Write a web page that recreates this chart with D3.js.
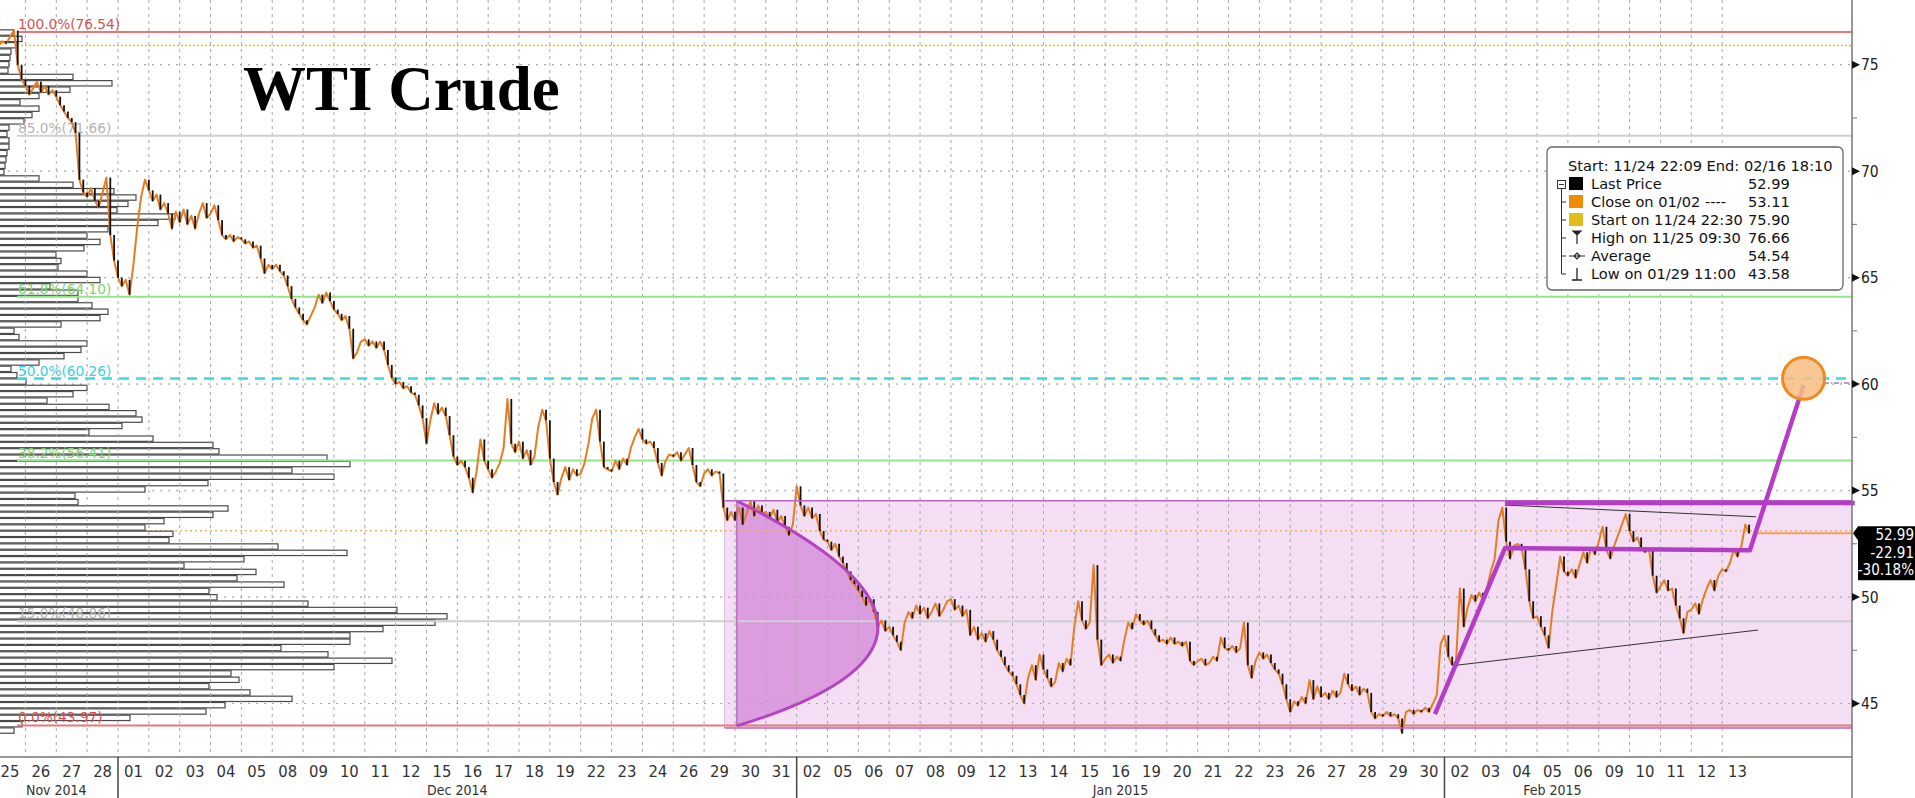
<!DOCTYPE html>
<html><head><meta charset="utf-8">
<script src="https://cdn.jsdelivr.net/npm/d3@7"></script>
<style>
html,body{margin:0;padding:0;background:#fff;overflow:hidden}
svg{display:block}
</style></head><body>
<svg id="chart" width="1915" height="798" font-family="DejaVu Sans, sans-serif"></svg>
<script>
// ---------------- DATA ----------------
const tradingDays = ["2014-11-25","2014-11-26","2014-11-27","2014-11-28",
"2014-12-01","2014-12-02","2014-12-03","2014-12-04","2014-12-05","2014-12-08","2014-12-09","2014-12-10","2014-12-11","2014-12-12",
"2014-12-15","2014-12-16","2014-12-17","2014-12-18","2014-12-19","2014-12-22","2014-12-23","2014-12-24","2014-12-26","2014-12-29","2014-12-30","2014-12-31",
"2015-01-02","2015-01-05","2015-01-06","2015-01-07","2015-01-08","2015-01-09","2015-01-12","2015-01-13","2015-01-14","2015-01-15","2015-01-16",
"2015-01-19","2015-01-20","2015-01-21","2015-01-22","2015-01-23","2015-01-26","2015-01-27","2015-01-28","2015-01-29","2015-01-30",
"2015-02-02","2015-02-03","2015-02-04","2015-02-05","2015-02-06","2015-02-09","2015-02-10","2015-02-11","2015-02-12","2015-02-13"];

// price samples, 8 per trading session (every 3 hours)
const dailyPrices = [
[null,75.9,76.1,76.0,76.3,76.6,75.0,74.3],
[74.0,73.6,73.9,74.2,73.7,74.0,73.6,73.8],
[73.5,73.1,72.8,72.5,72.3,71.8,69.6,69.0],
[68.8,69.2,68.6,68.3,69.0,69.7,67.0,65.8],
[65.0,64.6,64.9,64.2,65.6,67.4,68.8,69.6],
[69.1,68.6,68.9,68.2,68.5,68.0,67.3,68.1],
[67.6,68.2,67.5,67.9,67.3,68.0,68.5,67.8],
[68.0,68.4,67.7,67.0,66.8,67.0,66.7,66.9],
[66.8,66.6,66.7,66.4,66.5,65.9,65.2,65.6],
[65.4,65.6,65.3,65.1,64.6,64.0,63.6,63.3],
[63.0,62.8,63.2,63.6,64.2,63.8,64.3,63.9],
[63.5,63.3,63.0,63.2,62.6,61.2,61.5,62.0],
[62.1,61.8,62.0,61.7,62.0,61.6,60.9,60.3],
[60.0,60.1,59.8,59.9,59.6,59.5,59.0,58.4],
[57.2,58.3,59.1,58.6,58.9,58.5,57.6,56.6],
[56.2,56.4,56.1,55.6,54.9,55.9,57.4,56.4],
[56.0,55.6,55.9,56.3,57.0,59.3,57.2,56.8],
[57.3,56.5,56.9,56.2,56.6,58.0,58.8,58.3],
[56.5,55.4,54.8,55.6,56.1,55.5,56.0,55.7],
[55.8,56.3,57.2,58.4,58.8,57.3,56.1,56.0],
[55.9,56.4,56.0,56.5,56.2,57.0,57.5,57.9],
[57.4,57.2,57.3,57.0,56.3,55.7,56.4,56.7],
[56.6,56.8,56.4,56.7,57.0,56.2,55.4,55.2],
[55.8,56.0,55.7,55.9,55.8,54.2,53.6,54.0],
[53.6,54.2,53.4,53.9,54.5,53.8,54.3,53.9],
[54.0,53.7,54.1,53.5,53.8,53.3,52.9,53.4],
[55.2,54.3,53.8,54.2,53.7,53.9,53.1,52.7],
[52.6,52.2,52.5,51.9,51.6,51.2,50.8,50.6],
[50.3,50.0,49.6,49.9,49.3,48.6,48.9,48.4],
[48.6,48.2,47.9,47.5,48.8,49.3,49.0,49.6],
[49.2,49.5,49.0,49.3,49.7,49.1,49.4,49.8],
[49.9,49.4,49.6,49.1,49.4,48.2,48.6,48.0],
[48.3,47.9,48.4,48.0,47.5,47.2,46.8,46.5],
[46.3,45.9,45.4,45.0,46.2,46.8,46.1,47.3],
[46.6,46.2,45.8,46.0,46.9,46.5,47.1,46.8],
[48.6,49.8,48.9,48.5,48.8,51.5,48.0,46.8],
[47.1,47.3,46.9,47.2,47.0,48.0,48.8,48.5],
[49.2,48.9,48.7,48.9,48.5,48.2,47.9,48.0],
[47.8,48.1,47.8,47.9,47.7,47.9,47.0,46.8],
[47.0,47.1,46.8,46.9,47.2,47.0,48.1,47.6],
[47.5,47.7,47.4,47.6,48.8,46.8,46.2,47.0],
[47.4,47.1,47.3,46.9,46.6,46.4,45.9,45.2],
[44.6,45.1,44.9,45.3,45.0,46.1,45.2,45.8],
[45.3,45.5,45.2,45.6,45.3,45.5,46.4,45.9],
[45.6,45.8,45.4,45.7,45.5,44.6,44.3,44.5],
[44.4,44.6,44.4,44.5,44.3,43.6,44.6,44.7],
[44.5,44.7,44.6,44.8,44.6,45.0,45.4,47.8],
[48.2,47.2,46.8,47.0,50.4,48.6,49.5,50.1],
[49.8,50.2,49.9,50.4,51.2,51.8,53.6,54.2],
[52.6,51.8,52.4,52.5,52.3,51.3,49.8,49.0],
[49.1,48.6,48.2,47.6,49.4,50.6,51.9,51.2],
[51.0,51.3,50.9,51.5,52.1,51.6,52.3,52.0],
[52.6,53.3,52.2,51.8,52.4,52.9,53.4,53.9],
[53.1,52.6,52.8,52.3,52.1,52.3,51.0,50.2],
[50.5,50.8,50.3,50.4,49.6,49.0,48.3,49.3],
[49.4,49.7,49.2,49.9,50.4,50.8,50.3,51.0],
[51.3,51.2,51.6,52.2,51.9,52.4,53.4,52.99]
];

// volume-at-price profile, top bin (high) to bottom bin (low)
const profileHigh = 76.66, profileLow = 43.58;
const volumeProfile = [14,22,16,11,10,9,8,73,112,70,39,20,39,32,24,9,7,9,9,7,6,5,4,39,73,114,136,
128,117,175,158,108,87,100,84,56,61,58,87,100,50,78,78,92,108,100,61,14,19,87,81,64,39,11,17,26,87,73,47,109,136,142,122,89,153,213,219,327,350,292,334,208,145,75,78,
228,213,164,145,173,169,278,347,244,184,256,237,284,209,217,308,397,447,435,383,350,350,281,328,392,334,231,239,209,250,292,225,206,130,22,14];

const fibLabels = ["100.0%","85.0%","61.8%","50.0%","38.2%","15.0%","0.0%"];
const fibValues = [76.54,71.66,64.10,60.26,56.41,48.86,43.97];
const fibKinds  = ["red","gray","green","cyan","green","gray","red"];

const yTicks = [45,50,55,60,65,70,75];
const yMinorTicks = [47.5,52.5,57.5,62.5,67.5,72.5];

const months = ["Nov 2014","Dec 2014","Jan 2015","Feb 2015"];
const monthLabelAt = [2, 15, 36.5, 50.5];   // session index the month label is centred on
const monthStarts = [4, 26, 47];             // session index where a new month starts

const legendHeader = "Start: 11/24 22:09 End: 02/16 18:10";
const legendLabels = ["Last Price","Close on 01/02 ----","Start on 11/24 22:30","High on 11/25 09:30","Average","Low on 01/29 11:00"];
const legendValues = ["52.99","53.11","75.90","76.66","54.54","43.58"];

const startPrice = 75.90, closeJan02 = 53.11, lastPrice = 52.99;
const lastTag = ["52.99","-22.91","-30.18%"];

// drawn annotations (session index, price)
const channel = {t0: 23.66, top: 54.52, bottom: 43.85};
const bowl = {t0: 24.06, top: 54.52, bottom: 43.95, ctrlT: 33.21, ctrlP: 47.98};
const pathLine = [[46.69,44.5],[48.96,52.3],[56.9,52.2],[58.64,59.95]];
const resistance = [[48.96,54.42],[60.3,54.42]];
const thinUpper = [[48.96,54.32],[57.1,53.77]];
const thinLower = [[47.4,46.8],[57.16,48.45]];
const target = {t: 58.64, p: 60.27};
const targetTail = [[59.3,60.05],[60.3,60.05]];

// ---------------- DRAW ----------------
const W = 1915, H = 798, plotR = 1852, axisY = 757;
const COND = "DejaVu Sans Condensed, DejaVu Sans, sans-serif";
const SANS = "DejaVu Sans, sans-serif";
const svg = d3.select("#chart");
const x = d3.scaleLinear().domain([0.175, 60.21]).range([0, plotR]);
const y = d3.scaleLinear().domain([45, 75]).range([703.5, 64.7]);
const vx = d3.scaleLinear().domain([0, d3.max(volumeProfile)]).range([0, 447]);

svg.append("rect").attr("width", W).attr("height", H).attr("fill", "#fff");

// channel box
const gA = svg.append("g");
gA.append("rect").attr("x", x(channel.t0)).attr("y", y(channel.top))
  .attr("width", plotR - x(channel.t0)).attr("height", y(channel.bottom) - y(channel.top))
  .attr("fill", "#f3def4");
gA.append("line").attr("x1", x(channel.t0)).attr("x2", x(channel.t0)).attr("y1", y(channel.top)).attr("y2", y(channel.bottom))
  .attr("stroke", "#dcc0de").attr("stroke-width", 1);
// bowl fill
const bowlPath = d3.path();
bowlPath.moveTo(x(bowl.t0), y(bowl.top));
bowlPath.quadraticCurveTo(x(bowl.ctrlT), y(bowl.ctrlP), x(bowl.t0), y(bowl.bottom));
gA.append("path").attr("d", bowlPath.toString() + "Z").attr("fill", "#dc9ce0");

// horizontal gridlines
svg.append("g").selectAll("line").data(yTicks).join("line")
  .attr("x1", 0).attr("x2", plotR).attr("y1", d => y(d)).attr("y2", d => y(d))
  .attr("stroke", "#a8a8a8").attr("stroke-width", 1.2).attr("stroke-dasharray", "2,6");

// close on 01/02 dotted line (under profile)
svg.append("line").attr("x1", 0).attr("x2", plotR).attr("y1", y(closeJan02)).attr("y2", y(closeJan02))
  .attr("stroke", "#f0b070").attr("stroke-width", 1.5).attr("stroke-dasharray", "2,3");

// volume profile
const binSize = (profileHigh - profileLow) / volumeProfile.length;
svg.append("g").selectAll("rect").data(volumeProfile).join("rect")
  .attr("x", -1)
  .attr("y", (d, i) => y(profileHigh - i * binSize) + 0.5)
  .attr("width", d => vx(d) + 1)
  .attr("height", (d, i) => y(profileHigh - (i + 1) * binSize) - y(profileHigh - i * binSize) - 1)
  .attr("fill", "#fff").attr("stroke", "#4a4a4a").attr("stroke-width", 1.2);

// vertical gridlines (session boundaries)
const boundaries = d3.range(1, tradingDays.length);
svg.append("g").selectAll("line").data(boundaries).join("line")
  .attr("x1", d => x(d)).attr("x2", d => x(d)).attr("y1", 0).attr("y2", axisY)
  .attr("stroke", "#a8a8a8").attr("stroke-width", 1).attr("stroke-dasharray", "3,4");

// fib lines
const fibStyle = {
  red:   {line: "#e87878", text: "#d85050", w: 2, dash: null},
  gray:  {line: "#cfcfcf", text: "#b4b4b4", w: 2, dash: null},
  green: {line: "#94e48a", text: "#7ed274", w: 2, dash: null},
  cyan:  {line: "#3ed8e2", text: "#3ccfdc", w: 2.5, dash: "10,7"}
};
const gF = svg.append("g");
fibValues.forEach((v, i) => {
  const s = fibStyle[fibKinds[i]];
  gF.append("line").attr("x1", 17).attr("x2", plotR).attr("y1", y(v)).attr("y2", y(v))
    .attr("stroke", s.line).attr("stroke-width", s.w).attr("stroke-dasharray", s.dash);
  gF.append("text").attr("x", 18).attr("y", y(v) - 3).attr("font-family", SANS).attr("font-size", 13.7).attr("fill", s.text)
    .text(fibLabels[i] + "(" + v.toFixed(2) + ")");
});
// start dotted line
svg.append("line").attr("x1", 17).attr("x2", plotR).attr("y1", y(startPrice)).attr("y2", y(startPrice))
  .attr("stroke", "#e0c010").attr("stroke-width", 1.5).attr("stroke-dasharray", "2,2");

// price series
const pts = [];
dailyPrices.forEach((arr, i) => arr.forEach((v, k) => { if (v != null) pts.push({t: i + k / arr.length, p: v}); }));
svg.append("path").datum(pts)
  .attr("d", d3.line().x(d => x(d.t)).y(d => y(d.p)))
  .attr("fill", "none").attr("stroke", "#e67d22").attr("stroke-width", 2).attr("stroke-linejoin", "round");
const downs = pts.slice(1).map((d, i) => ({t: d.t, a: pts[i].p, b: d.p})).filter(d => d.b < d.a);
svg.append("g").selectAll("line").data(downs).join("line")
  .attr("x1", d => x(d.t)).attr("x2", d => x(d.t)).attr("y1", d => y(d.a)).attr("y2", d => y(d.b))
  .attr("stroke", "#111").attr("stroke-width", 1.8);

// bowl outline
const bowlCurve = d3.path();
bowlCurve.moveTo(x(bowl.t0), y(bowl.top));
bowlCurve.quadraticCurveTo(x(bowl.ctrlT), y(bowl.ctrlP), x(bowl.t0), y(bowl.bottom));
svg.append("path").attr("d", bowlCurve.toString()).attr("fill", "none").attr("stroke", "#b443c4").attr("stroke-width", 3);
svg.append("line").attr("x1", x(bowl.t0)).attr("x2", x(bowl.t0)).attr("y1", y(bowl.top)).attr("y2", y(bowl.bottom))
  .attr("stroke", "#a050b0").attr("stroke-width", 1);
// channel edges
[channel.top, channel.bottom].forEach(p => svg.append("line").attr("x1", x(channel.t0)).attr("x2", plotR)
  .attr("y1", y(p)).attr("y2", y(p)).attr("stroke", "#b865c6").attr("stroke-width", 1.5));

const ln = d3.line().x(d => x(d[0])).y(d => y(d[1]));
svg.append("path").attr("d", ln(thinUpper)).attr("stroke", "#333").attr("stroke-width", 1).attr("fill", "none");
svg.append("path").attr("d", ln(thinLower)).attr("stroke", "#333").attr("stroke-width", 1).attr("fill", "none");
// last price line
svg.append("line").attr("x1", x(57)).attr("x2", plotR).attr("y1", y(lastPrice)).attr("y2", y(lastPrice))
  .attr("stroke", "#eea060").attr("stroke-width", 2);
svg.append("path").attr("d", ln(resistance)).attr("stroke", "#b43cc6").attr("stroke-width", 4.5).attr("fill", "none");
svg.append("path").attr("d", ln(pathLine)).attr("stroke", "#b43cc6").attr("stroke-width", 4.5).attr("fill", "none")
  .attr("stroke-linejoin", "round");
svg.append("path").attr("d", ln(targetTail)).attr("stroke", "#a878b8").attr("stroke-width", 1.5)
  .attr("stroke-dasharray", "5,2,1,2").attr("fill", "none");
svg.append("circle").attr("cx", x(target.t)).attr("cy", y(target.p)).attr("r", 21)
  .attr("fill", "#f8bd84").attr("fill-opacity", 0.85).attr("stroke", "#ee8a1c").attr("stroke-width", 3);

// title
svg.append("text").attr("x", 243).attr("y", 110).attr("font-family", "Liberation Serif, DejaVu Serif, serif")
  .attr("font-weight", "bold").attr("font-size", 63).attr("fill", "#000").text("WTI Crude");

// legend
const gL = svg.append("g").attr("font-family", SANS);
gL.append("rect").attr("x", 1547).attr("y", 147).attr("width", 296).attr("height", 143).attr("rx", 5)
  .attr("fill", "#fff").attr("stroke", "#666").attr("stroke-width", 1.3);
gL.append("text").attr("x", 1568).attr("y", 171).attr("font-size", 14.6).attr("fill", "#111").text(legendHeader);
const rowY = i => 189 + i * 18;
gL.append("rect").attr("x", 1557.5).attr("y", 180.5).attr("width", 8).attr("height", 8).attr("fill", "#fff").attr("stroke", "#333");
gL.append("line").attr("x1", 1559).attr("x2", 1564).attr("y1", 184.5).attr("y2", 184.5).attr("stroke", "#333");
gL.append("line").attr("x1", 1561.5).attr("x2", 1561.5).attr("y1", 189).attr("y2", rowY(5) - 5).attr("stroke", "#333");
legendLabels.forEach((lab, i) => {
  const cy = rowY(i) - 5;
  if (i > 0) gL.append("line").attr("x1", 1561.5).attr("x2", 1566).attr("y1", cy).attr("y2", cy).attr("stroke", "#333");
  gL.append("text").attr("x", 1591).attr("y", rowY(i)).attr("font-size", 14.6).attr("fill", "#111").text(lab);
  gL.append("text").attr("x", 1748).attr("y", rowY(i)).attr("font-size", 14.6).attr("fill", "#111").text(legendValues[i]);
});
const swatch = ["#000", "#f08c00", "#e2bb1c"];
swatch.forEach((c, i) => gL.append("rect").attr("x", 1569).attr("y", rowY(i) - 12).attr("width", 14).attr("height", 13).attr("fill", c));
gL.append("path").attr("d", `M1573,${rowY(3)-12}L1581,${rowY(3)-12}L1577,${rowY(3)-8}Z M1577,${rowY(3)-10}V${rowY(3)+1}`)
  .attr("stroke", "#222").attr("fill", "#222").attr("stroke-width", 1.2);
gL.append("path").attr("d", `M1569,${rowY(4)-5}H1585 M1577,${rowY(4)-8}L1580,${rowY(4)-5}L1577,${rowY(4)-2}L1574,${rowY(4)-5}Z`)
  .attr("stroke", "#222").attr("fill", "#fff").attr("stroke-width", 1.2);
gL.append("path").attr("d", `M1577,${rowY(5)-11}V${rowY(5)+1} M1572,${rowY(5)+1}H1582`)
  .attr("stroke", "#222").attr("fill", "none").attr("stroke-width", 1.3);

// axes
svg.append("line").attr("x1", 0).attr("x2", plotR).attr("y1", axisY).attr("y2", axisY).attr("stroke", "#777").attr("stroke-width", 1.5);
svg.append("line").attr("x1", plotR).attr("x2", plotR).attr("y1", 0).attr("y2", H).attr("stroke", "#777").attr("stroke-width", 1.5);
const gY = svg.append("g").attr("font-family", COND);
yTicks.forEach(v => {
  gY.append("path").attr("d", `M${plotR},${y(v)-4}L${plotR+8},${y(v)}L${plotR},${y(v)+4}Z`).attr("fill", "#111");
  gY.append("text").attr("x", plotR + 9).attr("y", y(v) + 5.5).attr("font-size", 15.5).attr("fill", "#222").text(v);
});
yMinorTicks.forEach(v => gY.append("line").attr("x1", plotR).attr("x2", plotR + 5).attr("y1", y(v)).attr("y2", y(v)).attr("stroke", "#777"));

const gX = svg.append("g").attr("font-family", COND);
tradingDays.forEach((d, i) => {
  gX.append("text").attr("x", x(i + 0.5)).attr("y", 777).attr("text-anchor", "middle")
    .attr("font-size", 16.5).attr("fill", "#333").text(d.slice(8, 10));
});
months.forEach((m, i) => gX.append("text").attr("x", x(monthLabelAt[i])).attr("y", 795).attr("text-anchor", "middle")
  .attr("font-size", 14).attr("fill", "#333").text(m));
monthStarts.forEach(t => gX.append("line").attr("x1", x(t)).attr("x2", x(t)).attr("y1", axisY).attr("y2", H)
  .attr("stroke", "#444").attr("stroke-width", 1.5));

// last price tag
const ly = y(lastPrice);
svg.append("path").attr("d", `M${plotR+1},${ly}L${plotR+6},${ly-7}L${W},${ly-7}L${W},${ly+47}L${plotR+6},${ly+47}L${plotR+6},${ly+7}Z`)
  .attr("fill", "#000");
lastTag.forEach((s, i) => svg.append("text").attr("x", W - 1).attr("y", ly + 7 + i * 17.5).attr("text-anchor", "end")
  .attr("font-family", COND).attr("font-size", 15).attr("fill", "#fff").text(s));
</script>
</body></html>
